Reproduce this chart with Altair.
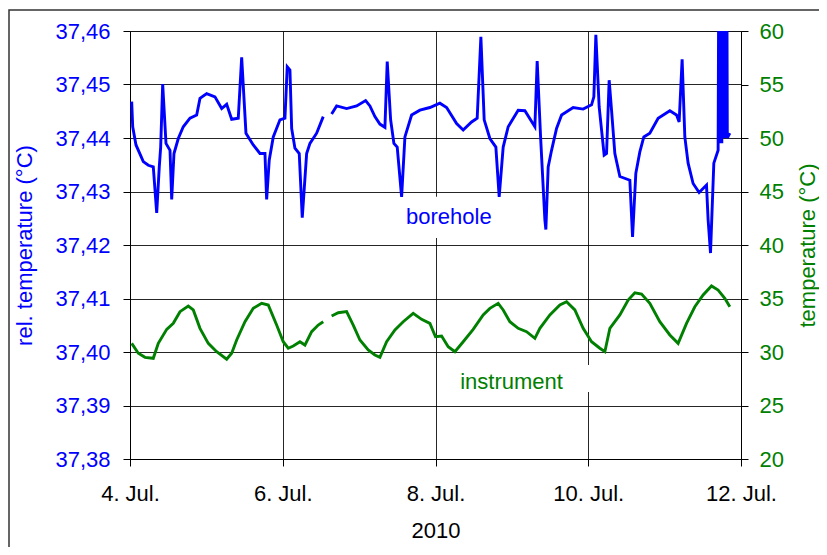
import altair as alt
import pandas as pd

# ---------------- data (hours after 4 Jul 2010 00:00) ----------------
bore_h1 = [0.53, 0.85, 1.88, 4.18, 5.75, 7.32, 8.39, 9.20, 9.64, 10.27, 11.31, 12.57, 13.10, 13.82, 15.17,
           16.74, 18.85, 20.95, 21.99, 24.09, 26.70, 28.81, 30.38, 31.95, 34.02, 35.09, 36.44, 38.73, 40.84,
           42.41, 42.94, 43.76, 45.02, 47.12, 48.69, 49.41, 50.26, 50.80, 51.83, 53.18, 54.13, 55.51, 56.55,
           58.65, 60.72]
bore_v1 = [37.4468, 37.4421, 37.4387, 37.4356, 37.4349, 37.4346, 37.4260, 37.4346, 37.4383, 37.4501,
           37.4390, 37.4377, 37.4285, 37.4371, 37.4399, 37.4421, 37.4437, 37.4443, 37.4474, 37.4483,
           37.4477, 37.4455, 37.4463, 37.4435, 37.4437, 37.4551, 37.4409, 37.4387, 37.4371, 37.4371,
           37.4285, 37.4359, 37.4402, 37.4434, 37.4437, 37.4533, 37.4527, 37.4418, 37.4381, 37.4371,
           37.4251, 37.4371, 37.4390, 37.4409, 37.4440]
bore_h2 = [63.36, 64.93, 68.07, 71.22, 74.04, 75.39, 76.96, 78.53, 80.11, 80.83, 81.90, 82.93, 83.97, 85.35,
           86.39, 88.49, 91.10, 94.24, 97.38, 99.49, 102.63, 104.70, 107.34, 109.10, 110.26, 111.30, 113.09,
           114.97, 116.01, 117.27, 118.84, 121.98, 124.09, 127.23, 127.95, 129.02, 130.37, 130.68, 131.41,
           132.47, 134.04, 135.62, 139.26, 142.40, 145.04, 145.76, 146.39, 147.43, 148.18, 149.00, 149.75,
           150.57, 151.32, 152.36, 153.93, 157.07, 157.92, 158.95, 160.21, 161.46, 163.35, 165.96, 169.64,
           171.74, 172.56, 173.50, 174.35, 175.38, 176.95, 178.84, 181.16, 181.67, 182.42, 183.46, 184.81,
           185.03, 185.34, 185.66, 185.97, 186.29, 186.60, 186.91, 187.23, 187.54, 187.70, 188.49]
bore_v2 = [37.4445, 37.4460, 37.4455, 37.4460, 37.4470, 37.4460, 37.4440, 37.4426, 37.4420, 37.4543,
           37.4434, 37.4390, 37.4383, 37.4290, 37.4402, 37.4443, 37.4452, 37.4457, 37.4465, 37.4457,
           37.4427, 37.4415, 37.4430, 37.4437, 37.4589, 37.4434, 37.4399, 37.4383, 37.4290, 37.4383,
           37.4421, 37.4452, 37.4451, 37.4421, 37.4544, 37.4402, 37.4247, 37.4229, 37.4346, 37.4377,
           37.4418, 37.4443, 37.4457, 37.4454, 37.4462, 37.4477, 37.4593, 37.4458, 37.4415, 37.4368,
           37.4371, 37.4508, 37.4452, 37.4371, 37.4328, 37.4321, 37.4215, 37.4334, 37.4374, 37.4402,
           37.4409, 37.4437, 37.4451, 37.4443, 37.4430, 37.4547, 37.4402, 37.4353, 37.4315, 37.4298,
           37.4312, 37.4247, 37.4185, 37.4353, 37.4377, 37.475, 37.439, 37.475, 37.439, 37.475,
           37.440, 37.475, 37.440, 37.475, 37.440, 37.4409]

inst_h1 = [0.53, 2.61, 4.71, 7.32, 8.89, 11.53, 13.60, 15.71, 18.31, 19.89, 21.99, 24.60, 27.24, 30.38,
           31.95, 33.52, 36.13, 38.73, 41.37, 43.45, 46.08, 48.16, 49.73, 51.30, 53.40, 54.97, 57.08,
           59.15, 60.72]
inst_v1 = [30.81, 29.88, 29.50, 29.41, 30.81, 32.12, 32.68, 33.77, 34.30, 33.93, 32.21, 30.81, 30.03,
           29.32, 29.88, 31.12, 32.83, 34.08, 34.55, 34.39, 32.52, 30.96, 30.35, 30.56, 30.96, 30.65,
           31.90, 32.52, 32.83]
inst_h2 = [63.36, 65.44, 68.07, 70.15, 72.25, 74.86, 76.96, 78.53, 80.64, 83.25, 85.85, 88.99, 91.63,
           94.24, 96.0, 97.92, 99.99, 102.10, 104.70, 107.84, 110.98, 113.09, 115.70, 117.27, 119.37,
           121.98, 124.62, 127.23, 128.80, 131.94, 135.08, 137.19, 139.79, 142.40, 145.04, 147.65,
           149.22, 150.79, 153.93, 156.54, 158.64, 160.75, 163.35, 166.49, 169.64, 172.24, 174.88,
           177.49, 180.10, 182.73, 184.81, 186.91, 188.49]
inst_v2 = [33.36, 33.67, 33.77, 32.52, 31.12, 30.19, 29.72, 29.50, 30.96, 32.06, 32.83, 33.61, 33.05,
           32.68, 31.43, 31.50, 30.50, 30.03, 30.96, 32.12, 33.46, 34.08, 34.55, 33.93, 32.83, 32.21,
           31.90, 31.28, 32.21, 33.46, 34.39, 34.70, 33.93, 32.21, 30.96, 30.35, 30.03, 32.21, 33.46,
           34.86, 35.54, 35.42, 34.55, 32.83, 31.59, 30.81, 32.68, 34.23, 35.33, 36.17, 35.79, 35.02,
           34.23]

left_ticks = [37.38, 37.39, 37.40, 37.41, 37.42, 37.43, 37.44, 37.45, 37.46]
right_ticks = [20, 25, 30, 35, 40, 45, 50, 55, 60]
x_tick_days = [4, 6, 8, 10, 12]

# label annotations (hours, value) and their white boxes
bore_label = {"text": "borehole", "h": 100.2, "v": 37.4252}
bore_box = {"h0": 83.2, "h1": 122.5, "v0": 37.4213, "v1": 37.4290}
inst_label = {"text": "instrument", "h": 119.9, "v": 27.2}
inst_box = {"h0": 98.95, "h1": 146.1, "v0": 26.26, "v1": 28.79}

# ---------------- build tables ----------------
BASE = pd.Timestamp("2010-07-04")


def to_time(h):
    return BASE + pd.to_timedelta(pd.Series(h, dtype=float), unit="h")


bore = pd.concat([
    pd.DataFrame({"t": to_time(bore_h1), "v": bore_v1, "seg": "a"}),
    pd.DataFrame({"t": to_time(bore_h2), "v": bore_v2, "seg": "b"}),
], ignore_index=True)
inst = pd.concat([
    pd.DataFrame({"t": to_time(inst_h1), "v": inst_v1, "seg": "a"}),
    pd.DataFrame({"t": to_time(inst_h2), "v": inst_v2, "seg": "b"}),
], ignore_index=True)

bore_lab = pd.DataFrame({"t": to_time([bore_label["h"]]), "v": [bore_label["v"]], "txt": [bore_label["text"]]})
inst_lab = pd.DataFrame({"t": to_time([inst_label["h"]]), "v": [inst_label["v"]], "txt": [inst_label["text"]]})
bore_bx = pd.DataFrame({"t": to_time([bore_box["h0"]]), "t1": to_time([bore_box["h1"]]),
                        "v": [bore_box["v0"]], "v1": [bore_box["v1"]]})
inst_bx = pd.DataFrame({"t": to_time([inst_box["h0"]]), "t1": to_time([inst_box["h1"]]),
                        "v": [inst_box["v0"]], "v1": [inst_box["v1"]]})

FONT = "Liberation Sans"
BLUE = "#0000FF"
GREEN = "#008000"

x_vals = [alt.DateTime(year=2010, month=7, date=d) for d in x_tick_days]
x_scale = alt.Scale(domain=[x_vals[0], x_vals[-1]])
x_axis = alt.Axis(values=x_vals, labelExpr="timeFormat(datum.value, '%-d') + '. Jul.'",
                  title="2010", grid=True, labelColor="black", titleColor="black",
                  labelPadding=17, titlePadding=16, labelAngle=0, labelAlign="center",
                  labelFlush=False)

yl_scale = alt.Scale(domain=[37.38, 37.46], nice=False, zero=False)
yr_scale = alt.Scale(domain=[20, 60], nice=False, zero=False)

yl_axis = alt.Axis(orient="left", values=left_ticks,
                   labelExpr="replace(format(datum.value, '.2f'), '.', ',')",
                   title="rel. temperature (°C)", labelColor=BLUE, titleColor=BLUE,
                   grid=True, labelPadding=13, titlePadding=18)
yr_axis = alt.Axis(orient="right", values=right_ticks, title="temperature (°C)",
                   labelColor=GREEN, titleColor=GREEN, grid=False, labelPadding=11,
                   titlePadding=14, titleAngle=270, titleBaseline="top")

X = alt.X("t:T", scale=x_scale, axis=x_axis)
YL = alt.Y("v:Q", scale=yl_scale, axis=yl_axis)
YR = alt.Y("v:Q", scale=yr_scale, axis=yr_axis)

frame = alt.Chart(pd.DataFrame({"k": [0]})).mark_rect(
    filled=False, stroke="#333333", strokeWidth=1.5, clip=False
).encode(x=alt.value(-121), x2=alt.value(900), y=alt.value(-21), y2=alt.value(900))

b_box = alt.Chart(bore_bx).mark_rect(color="white").encode(x=X, x2="t1:T", y=YL, y2="v1:Q")

b_line = alt.Chart(bore).mark_line(color=BLUE, strokeWidth=2.9, clip=True).encode(
    x=X, y=YL, detail="seg:N")

b_text = alt.Chart(bore_lab).mark_text(font=FONT, fontSize=22, color=BLUE,
                                       align="center", baseline="middle").encode(
    x=X, y=YL, text="txt:N")

i_box = alt.Chart(inst_bx).mark_rect(color="white").encode(x=X, x2="t1:T", y=YR, y2="v1:Q")

i_line = alt.Chart(inst).mark_line(color=GREEN, strokeWidth=2.9, clip=True).encode(
    x=X, y=YR, detail="seg:N")

i_text = alt.Chart(inst_lab).mark_text(font=FONT, fontSize=22, color=GREEN,
                                       align="center", baseline="middle").encode(
    x=X, y=YR, text="txt:N")

left = alt.layer(b_box, b_line, b_text, frame)
right = alt.layer(i_box, i_line, i_text)

chart = alt.layer(left, right).resolve_scale(y="independent").properties(
    width=611, height=428,
    padding={"left": 122, "top": 23, "right": 78, "bottom": 88},
    autosize=alt.AutoSizeParams(type="none"),
    background="white",
).configure_axis(
    labelFont=FONT, titleFont=FONT, labelFontSize=22, titleFontSize=22,
    titleFontWeight="normal", domainColor="black", tickColor="black",
    gridColor="black", gridOpacity=0.85, tickSize=7, domainWidth=1, tickWidth=1, gridWidth=1,
).configure_view(stroke="#888888")

chart.save("out.html", embed_options={"renderer": "svg", "actions": False})
